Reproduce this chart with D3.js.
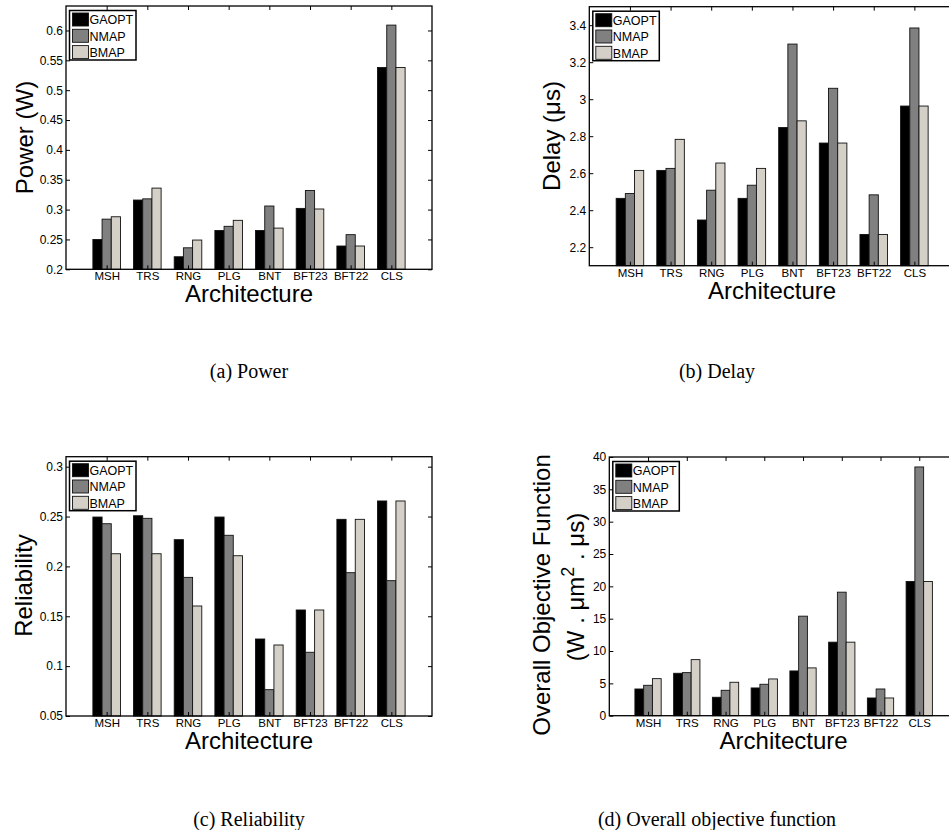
<!DOCTYPE html>
<html>
<head>
<meta charset="utf-8">
<script src="https://cdn.jsdelivr.net/npm/d3@7"></script>
<style>
    body { margin: 0; background: #fff; }
    svg { display: block; }
    text { font-family: "Liberation Sans", Arial, sans-serif; fill: #000; }
    .cap { font-family: "Liberation Serif", "DejaVu Serif", serif; }
</style>
</head>
<body>
<svg id="fig" width="949" height="830"></svg>
<script>
// data
var categories = ["MSH", "TRS", "RNG", "PLG", "BNT", "BFT23", "BFT22", "CLS"];
var seriesNames = ["GAOPT", "NMAP", "BMAP"];
var seriesColors = ["#000000", "#808080", "#d4d0c8"];

var powerGaopt = [0.250, 0.316, 0.221, 0.265, 0.265, 0.302, 0.239, 0.538];
var powerNmap  = [0.284, 0.318, 0.236, 0.272, 0.306, 0.332, 0.258, 0.609];
var powerBmap  = [0.288, 0.336, 0.249, 0.282, 0.269, 0.301, 0.239, 0.538];
var powerTicks = [0.2, 0.25, 0.3, 0.35, 0.4, 0.45, 0.5, 0.55, 0.6];

var delayGaopt = [2.464, 2.615, 2.347, 2.464, 2.847, 2.763, 2.269, 2.963];
var delayNmap  = [2.490, 2.626, 2.508, 2.535, 3.298, 3.059, 2.483, 3.385];
var delayBmap  = [2.615, 2.783, 2.655, 2.626, 2.883, 2.763, 2.269, 2.963];
var delayTicks = [2.2, 2.4, 2.6, 2.8, 3, 3.2, 3.4];

var relGaopt = [0.2495, 0.2508, 0.2268, 0.2495, 0.1272, 0.1563, 0.2472, 0.2656];
var relNmap  = [0.2428, 0.2482, 0.1890, 0.2312, 0.0764, 0.1139, 0.1937, 0.1857];
var relBmap  = [0.2127, 0.2127, 0.1603, 0.2107, 0.1212, 0.1563, 0.2472, 0.2656];
var relTicks = [0.05, 0.1, 0.15, 0.2, 0.25, 0.3];

var objGaopt = [4.13, 6.56, 2.85, 4.29, 6.92, 11.37, 2.74, 20.75];
var objNmap  = [4.70, 6.66, 3.93, 4.86, 15.39, 19.10, 4.13, 38.46];
var objBmap  = [5.73, 8.67, 5.17, 5.68, 7.39, 11.37, 2.74, 20.75];
var objTicks = [0, 5, 10, 15, 20, 25, 30, 35, 40];

var svg = d3.select("#fig");
svg.append("rect").attr("width", 949).attr("height", 830).attr("fill", "#fff");

function drawPanel(p){
    var g = svg.append("g");
    var x = d3.scaleLinear().domain([0, categories.length + 1]).range([p.left, p.right]);
    var y = d3.scaleLinear().domain(p.ydom).range([p.bottom, p.top]);
    var cats = d3.range(1, categories.length + 1);
    var bw = 0.226;
    var fmt = function(d){ return String(+d.toFixed(2)); };

    // bars
    p.series.forEach(function(vals, s){
        g.append("g").selectAll("rect")
            .data(vals)
            .enter().append("rect")
            .attr("x", function(d, i){ return x(i + 1 + (s - 1) * bw - bw / 2); })
            .attr("width", x(bw) - x(0))
            .attr("y", function(d){ return y(d); })
            .attr("height", function(d){ return y(p.ydom[0]) - y(d); })
            .attr("fill", seriesColors[s])
            .attr("stroke", "#111")
            .attr("stroke-width", 0.9);
    });

    // axes, ticks pointing inside like matlab
    var left = g.append("g").attr("transform", "translate(" + p.left + ",0)")
        .call(d3.axisLeft(y).tickValues(p.ticks).tickFormat(fmt).tickSizeInner(-4).tickSizeOuter(0).tickPadding(3));
    var right = g.append("g").attr("transform", "translate(" + p.right + ",0)")
        .call(d3.axisRight(y).tickValues(p.ticks).tickFormat("").tickSizeInner(-4).tickSizeOuter(0));
    var top = g.append("g").attr("transform", "translate(0," + p.top + ")")
        .call(d3.axisTop(x).tickValues(cats).tickFormat("").tickSizeInner(-4).tickSizeOuter(0));
    var bottom = g.append("g").attr("transform", "translate(0," + p.bottom + ")")
        .call(d3.axisBottom(x).tickValues(cats).tickFormat(function(d){ return categories[d - 1]; })
              .tickSizeInner(-4).tickSizeOuter(0).tickPadding(3));

    [left, right, top, bottom].forEach(function(a){
        a.select(".domain").remove();
        a.selectAll("line").attr("stroke", "#000");
        a.selectAll("text").attr("font-family", "Liberation Sans, Arial, sans-serif").attr("font-size", 12).attr("fill", "#000");
    });
    bottom.selectAll("text").attr("font-size", 11.5);

    g.append("rect")
        .attr("x", p.left).attr("y", p.top)
        .attr("width", p.right - p.left).attr("height", p.bottom - p.top)
        .attr("fill", "none").attr("stroke", "#000").attr("stroke-width", 1.3);

    // labels
    g.append("text")
        .attr("x", (p.left + p.right) / 2).attr("y", p.bottom + 33)
        .attr("text-anchor", "middle").attr("font-size", 24)
        .text("Architecture");

    p.ylab.forEach(function(l){
        var t = g.append("text")
            .attr("transform", "translate(" + l.x + "," + l.y + ") rotate(-90)")
            .attr("text-anchor", "middle").attr("font-size", 24);
        l.parts.forEach(function(part){
            if (part.sup) {
                t.append("tspan").attr("dy", "-0.55em").attr("font-size", 18).text(part.t);
            } else {
                t.append("tspan").attr("dy", part.after ? "0.41em" : null).text(part.t);
            }
        });
    });

    // legend
    var lx = p.left + 3.5, ly = p.top + 4.5;
    var lg = g.append("g");
    lg.append("rect").attr("x", lx).attr("y", ly).attr("width", 66.5).attr("height", 49.5)
        .attr("fill", "#fff").attr("stroke", "#000").attr("stroke-width", 1.5);
    seriesNames.forEach(function(n, i){
        lg.append("rect").attr("x", lx + 3).attr("y", ly + 2.5 + i * 16.3)
            .attr("width", 16).attr("height", 13)
            .attr("fill", seriesColors[i]).attr("stroke", "#111").attr("stroke-width", 0.9);
        lg.append("text").attr("x", lx + 20).attr("y", ly + 13.7 + i * 16.3)
            .attr("font-size", 12.5).text(n);
    });

    svg.append("text").attr("class", "cap")
        .attr("x", p.capX).attr("y", p.capY)
        .attr("text-anchor", "middle").attr("font-size", 20)
        .text(p.caption);
}

// power
drawPanel({
    left: 66, right: 432, top: 6, bottom: 269.3, ydom: [0.2, 0.641], ticks: powerTicks,
    series: [powerGaopt, powerNmap, powerBmap],
    ylab: [{ x: 33, y: 137.5, parts: [{ t: "Power (W)" }] }],
    caption: "(a) Power", capX: 249, capY: 378
});

// delay
drawPanel({
    left: 589.3, right: 955, top: 6.7, bottom: 265.7, ydom: [2.1, 3.5], ticks: delayTicks,
    series: [delayGaopt, delayNmap, delayBmap],
    ylab: [{ x: 560, y: 136, parts: [{ t: "Delay (μs)" }] }],
    caption: "(b) Delay", capX: 717, capY: 378
});

// reliability
drawPanel({
    left: 66, right: 432, top: 456.7, bottom: 716, ydom: [0.05, 0.31], ticks: relTicks,
    series: [relGaopt, relNmap, relBmap],
    ylab: [{ x: 31.5, y: 585.5, parts: [{ t: "Reliability" }] }],
    caption: "(c) Reliability", capX: 249, capY: 826
});

// overall objective
drawPanel({
    left: 609.3, right: 958, top: 457, bottom: 715.7, ydom: [0, 40], ticks: objTicks,
    series: [objGaopt, objNmap, objBmap],
    ylab: [
        { x: 550, y: 595, parts: [{ t: "Overall Objective Function" }] },
        { x: 584, y: 587, parts: [{ t: "(W . μm" }, { t: "2", sup: true }, { t: " . μs)", after: true }] }
    ],
    caption: "(d) Overall objective function", capX: 717, capY: 826
});
</script>
</body>
</html>
